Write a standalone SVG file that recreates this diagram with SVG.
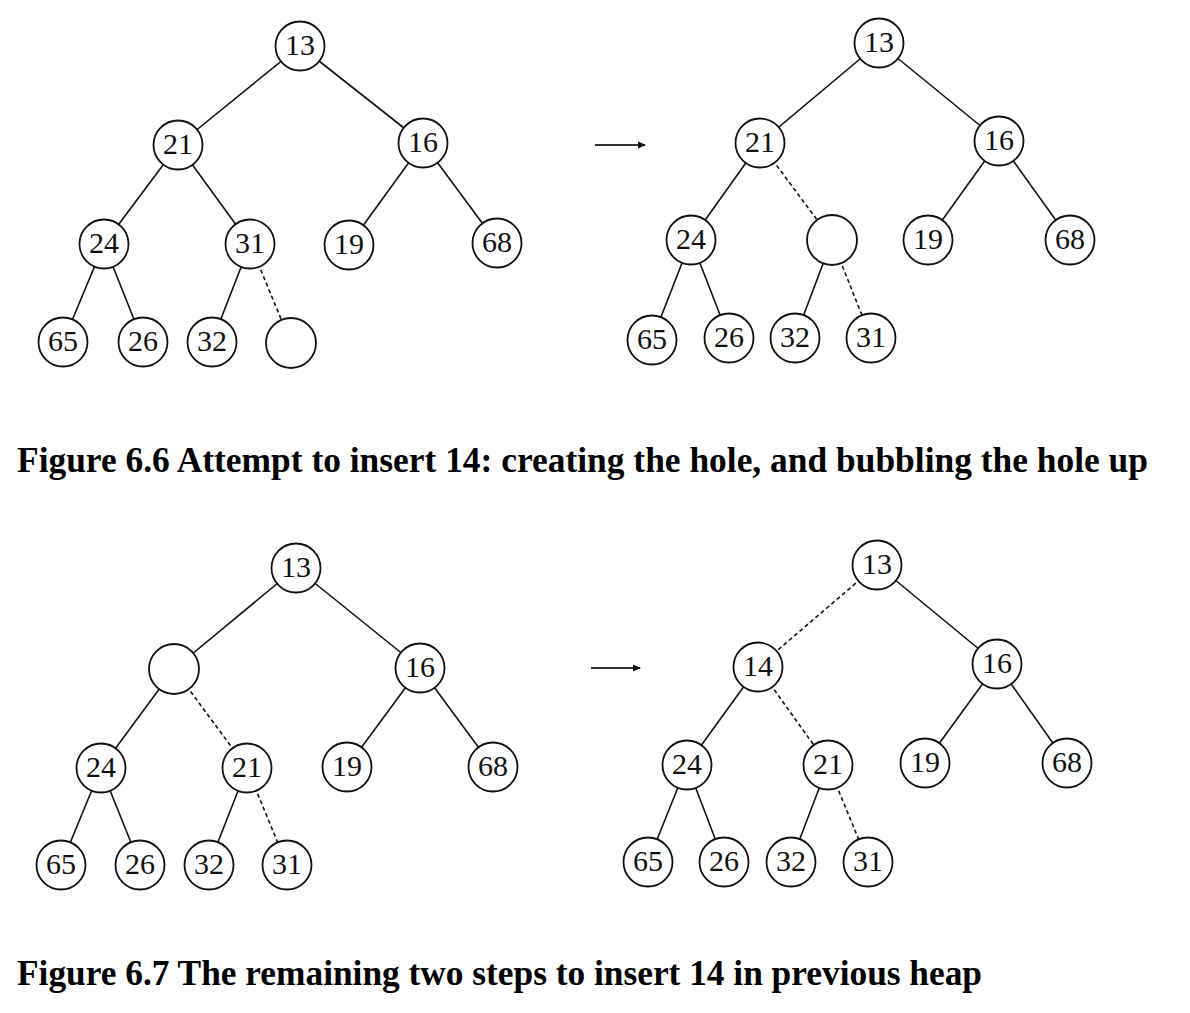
<svg xmlns="http://www.w3.org/2000/svg" width="1190" height="1013" viewBox="0 0 1190 1013">
<style>
.e{stroke:#111;stroke-width:1.6;fill:none}
.d{stroke:#111;stroke-width:1.6;fill:none;stroke-dasharray:4 3}
.n circle{fill:#fff;stroke:#111;stroke-width:1.8}
.n text{font-family:"Liberation Serif","Times New Roman",serif;font-size:30px;text-anchor:middle;fill:#111}
.cap{font-family:"Liberation Serif","Times New Roman",serif;font-weight:bold;font-size:35px;fill:#000}
.arr{stroke:#333;stroke-width:2;fill:none}
</style>
<defs>
<marker id="ah" markerWidth="8" markerHeight="8" refX="7" refY="4" orient="auto" markerUnits="userSpaceOnUse">
<path d="M0,0.5 L8,4 L0,7.5 Z" fill="#111"/>
</marker>
</defs>
<rect width="1190" height="1013" fill="#fff"/>
<g id="connectors">
<line class="e" x1="300" y1="46" x2="178" y2="145"/>
<line class="e" x1="300" y1="46" x2="423" y2="143"/>
<line class="e" x1="178" y1="145" x2="104" y2="244"/>
<line class="e" x1="178" y1="145" x2="250" y2="244"/>
<line class="e" x1="423" y1="143" x2="349" y2="245"/>
<line class="e" x1="423" y1="143" x2="497" y2="243"/>
<line class="e" x1="104" y1="244" x2="63" y2="342"/>
<line class="e" x1="104" y1="244" x2="143" y2="342"/>
<line class="e" x1="250" y1="244" x2="212" y2="342"/>
<line class="d" x1="250" y1="244" x2="291" y2="343"/>
<line class="e" x1="879" y1="43" x2="760" y2="143"/>
<line class="e" x1="879" y1="43" x2="999" y2="141"/>
<line class="e" x1="760" y1="143" x2="691" y2="240"/>
<line class="d" x1="760" y1="143" x2="832" y2="240"/>
<line class="e" x1="999" y1="141" x2="928" y2="240"/>
<line class="e" x1="999" y1="141" x2="1070" y2="240"/>
<line class="e" x1="691" y1="240" x2="652" y2="340"/>
<line class="e" x1="691" y1="240" x2="729" y2="338"/>
<line class="e" x1="832" y1="240" x2="795" y2="338"/>
<line class="d" x1="832" y1="240" x2="871" y2="338"/>
<line class="e" x1="296" y1="568" x2="174" y2="669"/>
<line class="e" x1="296" y1="568" x2="420" y2="668"/>
<line class="e" x1="174" y1="669" x2="101" y2="768"/>
<line class="d" x1="174" y1="669" x2="247" y2="768"/>
<line class="e" x1="420" y1="668" x2="347" y2="767"/>
<line class="e" x1="420" y1="668" x2="493" y2="767"/>
<line class="e" x1="101" y1="768" x2="61" y2="865"/>
<line class="e" x1="101" y1="768" x2="140" y2="865"/>
<line class="e" x1="247" y1="768" x2="209" y2="865"/>
<line class="d" x1="247" y1="768" x2="287" y2="865"/>
<line class="d" x1="877" y1="565" x2="758" y2="667"/>
<line class="e" x1="877" y1="565" x2="997" y2="664"/>
<line class="e" x1="758" y1="667" x2="687" y2="765"/>
<line class="d" x1="758" y1="667" x2="828" y2="765"/>
<line class="e" x1="997" y1="664" x2="925" y2="763"/>
<line class="e" x1="997" y1="664" x2="1067" y2="763"/>
<line class="e" x1="687" y1="765" x2="648" y2="862"/>
<line class="e" x1="687" y1="765" x2="724" y2="862"/>
<line class="e" x1="828" y1="765" x2="791" y2="862"/>
<line class="d" x1="828" y1="765" x2="868" y2="862"/>
<line class="arr" x1="595" y1="145" x2="645" y2="145" marker-end="url(#ah)"/>
<line class="arr" x1="591" y1="668" x2="640" y2="668" marker-end="url(#ah)"/>
</g>
<g id="t1-13" class="n"><circle cx="300" cy="46" r="24.5"/><text x="300" y="55">13</text></g>
<g id="t1-21" class="n"><circle cx="178" cy="145" r="24.5"/><text x="178" y="154">21</text></g>
<g id="t1-16" class="n"><circle cx="423" cy="143" r="24.5"/><text x="423" y="152">16</text></g>
<g id="t1-24" class="n"><circle cx="104" cy="244" r="24.5"/><text x="104" y="253">24</text></g>
<g id="t1-31" class="n"><circle cx="250" cy="244" r="24.5"/><text x="250" y="253">31</text></g>
<g id="t1-19" class="n"><circle cx="349" cy="245" r="24.5"/><text x="349" y="254">19</text></g>
<g id="t1-68" class="n"><circle cx="497" cy="243" r="24.5"/><text x="497" y="252">68</text></g>
<g id="t1-65" class="n"><circle cx="63" cy="342" r="24.5"/><text x="63" y="351">65</text></g>
<g id="t1-26" class="n"><circle cx="143" cy="342" r="24.5"/><text x="143" y="351">26</text></g>
<g id="t1-32" class="n"><circle cx="212" cy="342" r="24.5"/><text x="212" y="351">32</text></g>
<g id="t1-hole" class="n"><circle cx="291" cy="343" r="25"/></g>
<g id="t2-13" class="n"><circle cx="879" cy="43" r="24.5"/><text x="879" y="52">13</text></g>
<g id="t2-21" class="n"><circle cx="760" cy="143" r="24.5"/><text x="760" y="152">21</text></g>
<g id="t2-16" class="n"><circle cx="999" cy="141" r="24.5"/><text x="999" y="150">16</text></g>
<g id="t2-24" class="n"><circle cx="691" cy="240" r="24.5"/><text x="691" y="249">24</text></g>
<g id="t2-hole" class="n"><circle cx="832" cy="240" r="25"/></g>
<g id="t2-19" class="n"><circle cx="928" cy="240" r="24.5"/><text x="928" y="249">19</text></g>
<g id="t2-68" class="n"><circle cx="1070" cy="240" r="24.5"/><text x="1070" y="249">68</text></g>
<g id="t2-65" class="n"><circle cx="652" cy="340" r="24.5"/><text x="652" y="349">65</text></g>
<g id="t2-26" class="n"><circle cx="729" cy="338" r="24.5"/><text x="729" y="347">26</text></g>
<g id="t2-32" class="n"><circle cx="795" cy="338" r="24.5"/><text x="795" y="347">32</text></g>
<g id="t2-31" class="n"><circle cx="871" cy="338" r="24.5"/><text x="871" y="347">31</text></g>
<g id="t3-13" class="n"><circle cx="296" cy="568" r="24.5"/><text x="296" y="577">13</text></g>
<g id="t3-hole" class="n"><circle cx="174" cy="669" r="25"/></g>
<g id="t3-16" class="n"><circle cx="420" cy="668" r="24.5"/><text x="420" y="677">16</text></g>
<g id="t3-24" class="n"><circle cx="101" cy="768" r="24.5"/><text x="101" y="777">24</text></g>
<g id="t3-21" class="n"><circle cx="247" cy="768" r="24.5"/><text x="247" y="777">21</text></g>
<g id="t3-19" class="n"><circle cx="347" cy="767" r="24.5"/><text x="347" y="776">19</text></g>
<g id="t3-68" class="n"><circle cx="493" cy="767" r="24.5"/><text x="493" y="776">68</text></g>
<g id="t3-65" class="n"><circle cx="61" cy="865" r="24.5"/><text x="61" y="874">65</text></g>
<g id="t3-26" class="n"><circle cx="140" cy="865" r="24.5"/><text x="140" y="874">26</text></g>
<g id="t3-32" class="n"><circle cx="209" cy="865" r="24.5"/><text x="209" y="874">32</text></g>
<g id="t3-31" class="n"><circle cx="287" cy="865" r="24.5"/><text x="287" y="874">31</text></g>
<g id="t4-13" class="n"><circle cx="877" cy="565" r="24.5"/><text x="877" y="574">13</text></g>
<g id="t4-14" class="n"><circle cx="758" cy="667" r="24.5"/><text x="758" y="676">14</text></g>
<g id="t4-16" class="n"><circle cx="997" cy="664" r="24.5"/><text x="997" y="673">16</text></g>
<g id="t4-24" class="n"><circle cx="687" cy="765" r="24.5"/><text x="687" y="774">24</text></g>
<g id="t4-21" class="n"><circle cx="828" cy="765" r="24.5"/><text x="828" y="774">21</text></g>
<g id="t4-19" class="n"><circle cx="925" cy="763" r="24.5"/><text x="925" y="772">19</text></g>
<g id="t4-68" class="n"><circle cx="1067" cy="763" r="24.5"/><text x="1067" y="772">68</text></g>
<g id="t4-65" class="n"><circle cx="648" cy="862" r="24.5"/><text x="648" y="871">65</text></g>
<g id="t4-26" class="n"><circle cx="724" cy="862" r="24.5"/><text x="724" y="871">26</text></g>
<g id="t4-32" class="n"><circle cx="791" cy="862" r="24.5"/><text x="791" y="871">32</text></g>
<g id="t4-31" class="n"><circle cx="868" cy="862" r="24.5"/><text x="868" y="871">31</text></g>
<text class="cap" x="17" y="472" textLength="1131" lengthAdjust="spacingAndGlyphs">Figure 6.6 Attempt to insert 14: creating the hole, and bubbling the hole up</text>
<text class="cap" x="17" y="985" textLength="965" lengthAdjust="spacingAndGlyphs">Figure 6.7 The remaining two steps to insert 14 in previous heap</text>
</svg>
